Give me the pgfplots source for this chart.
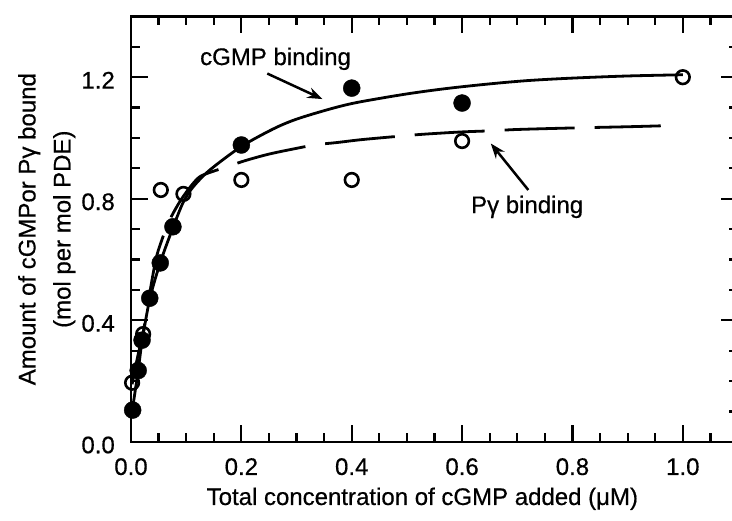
\documentclass[border=0pt]{standalone}
\usepackage{fontspec}
\setmainfont{Liberation Sans}
\newfontfamily\plotfont{Liberation Sans}[FakeBold=0.5]
\usepackage{pgfplots}
\pgfplotsset{compat=1.18}
\usetikzlibrary{arrows.meta}

% measured binding data
\pgfplotstableread{
x      y
0.003  0.105
0.013  0.235
0.020  0.335
0.034  0.473
0.053  0.589
0.076  0.708
0.200  0.977
0.400  1.164
0.600  1.115
}\cgmpdata
\pgfplotstableread{
x      y
0.002  0.195
0.022  0.355
0.054  0.829
0.095  0.816
0.200  0.862
0.400  0.862
0.600  0.990
1.000  1.200
}\pgdata

\begin{document}
\begin{tikzpicture}
\begin{axis}[
  at={(0,0)}, anchor=south west,
  scale only axis, width=607pt, height=425.6pt,
  xmin=0, xmax=1.1, ymin=0, ymax=1.4,
  clip=false,
  xtick={0,0.2,0.4,0.6,0.8,1.0},
  xticklabels={0.0,0.2,0.4,0.6,0.8,1.0},
  minor xtick={0.05,0.1,0.15,0.25,0.3,0.35,0.45,0.5,0.55,0.65,0.7,0.75,0.85,0.9,0.95,1.05},
  ytick={0,0.4,0.8,1.2},
  yticklabels={0.0,0.4,0.8,1.2},
  minor ytick={0.1,0.2,0.3,0.5,0.6,0.7,0.9,1.0,1.1,1.3},
  tick align=inside,
  major tick length=17pt, minor tick length=9pt,
  axis line style={line width=2.8pt},
  every tick/.style={black, line width=2.2pt},
  /pgf/number format/assume math mode=true,
  ticklabel style={font=\plotfont\fontsize{24}{28}\selectfont, inner sep=0pt},
  xticklabel style={anchor=north, yshift=-16pt},
  yticklabel style={anchor=east, xshift=-16pt, yshift=-3pt},
  label style={font=\plotfont\fontsize{24}{35}\selectfont},
  xlabel={Total concentration of cGMP added (μM)},
  xlabel style={at={(axis description cs:0.48,-0.148)}, anchor=base},
  ylabel={Amount of cGMPor Pγ bound\\(mol per mol PDE)},
  ylabel style={at={(axis description cs:-0.0857,0.5)}, anchor=south, align=center},
]
% fitted curves
\addplot[black, line width=2.8pt, smooth, tension=0.5] coordinates {
  (0.002,0.10) (0.013,0.235) (0.020,0.33) (0.034,0.47) (0.053,0.59)
  (0.076,0.705) (0.095,0.79) (0.113,0.84) (0.143,0.895) (0.200,0.972)
  (0.258,1.030) (0.300,1.062) (0.360,1.095) (0.410,1.117) (0.500,1.145)
  (0.573,1.163) (0.650,1.178) (0.720,1.189) (0.800,1.197) (0.900,1.204)
  (1.000,1.208)
};
\addplot[black, line width=2.8pt, smooth, tension=0.5,
         dash pattern=on 70pt off 20pt, dash phase=8pt] coordinates {
  (0.002,0.19) (0.012,0.28) (0.022,0.36) (0.033,0.48) (0.045,0.60)
  (0.055,0.66) (0.070,0.73) (0.090,0.795) (0.110,0.845) (0.125,0.873)
  (0.145,0.888) (0.165,0.90) (0.206,0.925) (0.250,0.947) (0.300,0.966)
  (0.336,0.978) (0.373,0.985) (0.420,0.995) (0.500,1.008) (0.535,1.013)
  (0.600,1.02) (0.658,1.024) (0.700,1.028) (0.800,1.033) (0.900,1.037)
  (0.960,1.04)
};
% data points
\addplot[only marks, mark=*, mark size=8.5pt, black] table {\cgmpdata};
\addplot[only marks, mark=o, mark size=6.8pt, black,
         mark options={line width=2.6pt}] table {\pgdata};
% annotations
\node[anchor=base west, font=\plotfont\fontsize{24}{28}\selectfont, inner sep=0pt]
  at (axis cs:0.125,1.24) {cGMP binding};
\draw[line width=2.5pt, -{Stealth[length=15pt,width=11pt]}]
  (axis cs:0.247,1.212) -- (axis cs:0.347,1.128);
\node[anchor=base west, font=\plotfont\fontsize{24}{28}\selectfont, inner sep=0pt]
  at (axis cs:0.616,0.753) {Pγ binding};
\draw[line width=2.5pt, -{Stealth[length=15pt,width=11pt]}]
  (axis cs:0.72,0.829) -- (axis cs:0.652,0.982);
\end{axis}
\pgfresetboundingbox
\path[use as bounding box] (-131pt,-79pt) rectangle (601pt,442pt);
\end{tikzpicture}
\end{document}
